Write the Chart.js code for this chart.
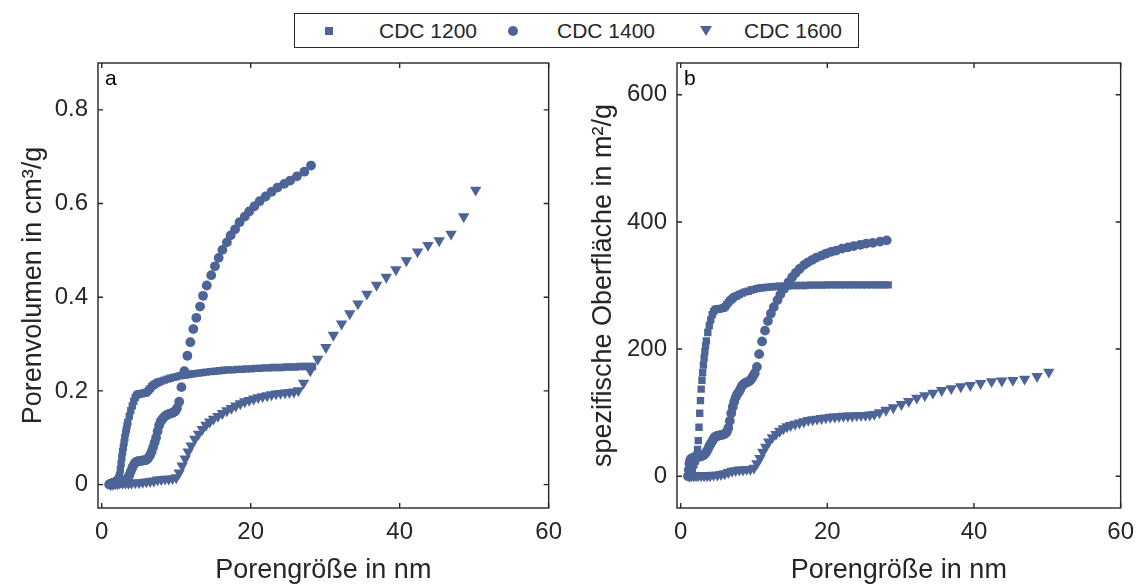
<!DOCTYPE html>
<html>
<head>
<meta charset="utf-8">
<script src="https://cdn.jsdelivr.net/npm/chart.js@4.4.0/dist/chart.umd.min.js"></script>
<style>
  body { margin: 0; width: 1144px; height: 587px; background: #fff; position: relative; overflow: hidden;
         font-family: "Liberation Sans", Arial, sans-serif; color: #262626; }
  .panel { position: absolute; top: 0; }
  #legend { position: absolute; left: 294px; top: 13px; width: 563px; height: 33px; border: 1px solid #262626; background: #fff; }
  #legend span { position: absolute; top: 5px; font-size: 21px; white-space: nowrap; }
  .mk { position: absolute; background: #4d6496; }
</style>
</head>
<body>
<canvas id="panelA" class="panel" width="572" height="587" style="left:0"></canvas>
<canvas id="panelB" class="panel" width="572" height="587" style="left:572px"></canvas>
<div id="legend">
  <div class="mk" style="left:30px;top:13px;width:8px;height:8px"></div>
  <span style="left:84px">CDC 1200</span>
  <div class="mk" style="left:213px;top:12px;width:10px;height:10px;border-radius:50%"></div>
  <span style="left:262px">CDC 1400</span>
  <div class="mk" style="left:405px;top:12px;width:0;height:0;background:none;border-left:6px solid transparent;border-right:6px solid transparent;border-top:10px solid #4d6496"></div>
  <span style="left:449px">CDC 1600</span>
</div>
<script>
// pore width in nm, cumulative pore volume in cm3/g, cumulative surface in m2/g
const width1200 = [1.2,1.4,1.6,1.8,2.0,
  2.1,2.2,2.3,2.4,2.5,2.6,2.7,2.8,2.9,3.0,
  3.1,3.2,3.3,3.4,3.5,
  3.7,3.9,4.1,4.3,4.5,4.7,4.9,5.1,5.3,5.5,
  5.7,5.9,6.1,6.3,6.5,6.7,6.9,7.1,7.3,7.5,
  7.7,8.0,8.4,8.8,9.2,9.6,10.0,10.4,10.8,11.2,
  11.6,12.0,12.5,13.0,13.5,14.0,14.6,15.2,15.8,16.4,
  17.0,17.6,18.2,18.8,19.4,20.0,20.6,21.2,21.8,22.4,
  23.0,23.6,24.2,24.8,25.4,26.0,26.6,27.2,27.8,28.3];
const volume1200 = [0.000,0.002,0.004,0.006,0.008,
  0.009,0.011,0.014,0.020,0.032,0.045,0.058,0.070,0.080,0.090,
  0.100,0.110,0.118,0.126,0.133,
  0.146,0.158,0.168,0.178,0.186,0.191,0.193,0.194,0.194,0.195,
  0.195,0.196,0.198,0.201,0.205,0.209,0.212,0.214,0.216,0.218,
  0.219,0.221,0.223,0.225,0.227,0.229,0.230,0.232,0.233,0.234,
  0.235,0.236,0.237,0.238,0.239,0.240,0.241,0.242,0.243,0.244,
  0.245,0.245,0.246,0.246,0.247,0.247,0.248,0.248,0.249,0.249,
  0.250,0.250,0.250,0.251,0.251,0.251,0.252,0.252,0.252,0.252];
const area1200 = [0,5,12,18,24,
  28,33,42,56,77,99,119,137,151,163,
  175,186,196,205,213,
  226,237,246,254,259,262,263,263,263,264,
  264,265,267,270,273,276,278,280,282,283,
  284,286,288,290,291,293,294,295,296,296.5,
  297,297.5,298,298.5,299,299,299.5,300,300,300,
  300,300.5,300.5,300.5,300.5,301,301,301,301,301,
  301,301,301,301,301,301,301,301,301,301];

const width1400 = [1.0,1.1,1.2,1.3,1.4,1.5,1.7,1.9,2.1,2.3,
  2.5,2.7,2.9,3.1,3.3,3.5,3.7,3.9,4.1,4.3,
  4.5,4.7,4.9,5.1,5.3,5.5,5.7,5.9,6.1,6.3,
  6.5,6.7,6.9,7.1,7.3,7.5,7.7,7.9,8.1,8.3,
  8.5,8.7,8.9,9.1,9.3,9.5,9.7,9.9,10.1,10.4,
  10.7,11.1,11.5,11.9,12.3,12.7,13.2,13.6,14.1,14.7,
  15.2,15.7,16.2,16.8,17.3,17.9,18.5,19.2,19.8,20.5,
  21.2,22.0,22.8,23.6,24.5,25.3,26.2,27.2,28.1];
const volume1400 = [0.000,0.001,0.002,0.002,0.003,0.003,0.003,0.003,0.003,0.004,
  0.004,0.004,0.005,0.007,0.010,0.014,0.020,0.028,0.036,0.042,
  0.047,0.049,0.050,0.050,0.051,0.051,0.052,0.052,0.054,0.058,
  0.063,0.070,0.080,0.090,0.100,0.114,0.126,0.134,0.139,0.143,
  0.146,0.148,0.150,0.151,0.152,0.153,0.155,0.157,0.163,0.177,
  0.208,0.242,0.275,0.304,0.332,0.356,0.380,0.403,0.425,0.447,
  0.466,0.484,0.501,0.517,0.532,0.545,0.560,0.572,0.583,0.594,
  0.605,0.615,0.625,0.634,0.642,0.649,0.658,0.668,0.681];
const area1400 = [0,10,20,25,27,28,29,30,30,31,
  31,31,32,33,35,38,42,47,51,55,
  59,62,63,64,64,65,65,66,67,70,
  76,87,99,109,117,124,129,132,136,141,
  144,146,147,148,149,151,154,158,162,172,
  192,212,229,244,256,266,277,286,295,305,
  313,320,326,332,336,340,344,347,350,353,
  355,358,360,362,364,366,367,369,371];

const width1600 = [1.2,1.5,1.8,2.1,2.4,2.8,3.2,3.6,4.0,4.5,
  5.0,5.5,6.0,6.5,7.0,7.5,8.0,8.5,9.0,9.5,
  10.0,10.4,10.8,11.2,11.6,12.0,12.5,13.0,13.5,14.0,
  14.5,15.0,15.6,16.2,16.8,17.4,18.0,18.6,19.2,19.8,
  20.4,21.0,21.6,22.2,22.8,23.4,24.0,24.6,25.2,25.8,
  26.4,27.1,28.0,29.0,30.1,31.1,32.2,33.3,34.4,35.6,
  36.9,38.2,39.5,40.9,42.4,43.8,45.3,46.9,48.6,50.2];
const volume1600 = [0.000,0.001,0.002,0.002,0.003,0.003,0.003,0.003,0.003,0.004,
  0.004,0.005,0.006,0.007,0.008,0.010,0.011,0.012,0.012,0.013,
  0.015,0.025,0.040,0.055,0.070,0.083,0.097,0.108,0.118,0.127,
  0.134,0.140,0.146,0.152,0.158,0.163,0.168,0.173,0.177,0.180,
  0.183,0.186,0.188,0.190,0.192,0.194,0.195,0.196,0.197,0.198,
  0.201,0.217,0.243,0.268,0.293,0.319,0.343,0.365,0.386,0.407,
  0.426,0.443,0.459,0.478,0.497,0.511,0.521,0.535,0.572,0.629];
const area1600 = [0,1,1,1,1,1,1,1,1,2,
  2,3,4,6,8,9,10,10,11,11,
  13,20,28,38,46,54,61,66,71,75,
  78,80,82,84,86,88,89,90,91,92,
  93,93.5,94,94.5,95,95,95.5,96,96,96.5,
  97.5,100,104,108,113,118,123,127,131,135,
  138,141,143,146,149,150,151,153,157,164];

const seriesNames = ['CDC 1200', 'CDC 1400', 'CDC 1600'];
const xTicks = [0, 20, 40, 60];
const volumeTicks = [0, 0.2, 0.4, 0.6, 0.8];
const areaTicks = [0, 200, 400, 600];

const markColor = '#4d6496';
const textColor = '#262626';
const fontFamily = '"Liberation Sans", Arial, sans-serif';

function pts(xs, ys) {
  return xs.map((x, i) => ({ x: x, y: ys[i] }));
}

// MATLAB-like box with inward ticks and panel letter
const boxTicks = {
  id: 'boxTicks',
  afterDraw(chart, args, opts) {
    const { ctx, chartArea: a, scales: { x, y } } = chart;
    ctx.save();
    ctx.strokeStyle = textColor;
    ctx.lineWidth = 1.4;
    ctx.strokeRect(a.left, a.top, a.right - a.left, a.bottom - a.top);
    const len = 5;
    ctx.beginPath();
    x.ticks.forEach(t => {
      const px = x.getPixelForValue(t.value);
      ctx.moveTo(px, a.bottom); ctx.lineTo(px, a.bottom - len);
      ctx.moveTo(px, a.top); ctx.lineTo(px, a.top + len);
    });
    y.ticks.forEach(t => {
      const py = y.getPixelForValue(t.value);
      ctx.moveTo(a.left, py); ctx.lineTo(a.left + len, py);
      ctx.moveTo(a.right, py); ctx.lineTo(a.right - len, py);
    });
    ctx.stroke();
    ctx.fillStyle = '#000';
    ctx.font = '21px ' + fontFamily;
    ctx.textBaseline = 'alphabetic';
    ctx.fillText(opts.letter, a.left + 7, a.top + 22);
    ctx.restore();
  }
};

function makePanel(id, ys, yTicks, yMin, yMax, yTitle, letter, axisW, padRight, titlePad) {
  const shapes = [
    { style: 'rect', radius: 5.2, rot: 0 },
    { style: 'circle', radius: 4.9, rot: 0 },
    { style: 'triangle', radius: 6.6, rot: 180 }
  ];
  const xs = [width1200, width1400, width1600];
  new Chart(document.getElementById(id).getContext('2d'), {
    type: 'scatter',
    data: {
      datasets: seriesNames.map((name, i) => ({
        label: name,
        data: pts(xs[i], ys[i]),
        pointStyle: shapes[i].style,
        pointRadius: shapes[i].radius,
        pointRotation: shapes[i].rot,
        pointBorderWidth: 0,
        backgroundColor: markColor,
        borderColor: markColor
      }))
    },
    options: {
      responsive: false,
      animation: false,
      events: [],
      layout: { padding: { top: 63, right: padRight, left: 0, bottom: 0 } },
      plugins: {
        legend: { display: false },
        tooltip: { enabled: false },
        boxTicks: { letter: letter }
      },
      scales: {
        x: {
          type: 'linear', min: -0.5, max: 60,
          afterBuildTicks: s => { s.ticks = xTicks.map(v => ({ value: v })); },
          afterFit: s => { s.height = 79; },
          grid: { display: false, drawTicks: false },
          border: { display: false },
          ticks: { color: textColor, font: { size: 24, family: fontFamily }, padding: 10, maxRotation: 0,
                   callback: v => String(v) },
          title: { display: true, text: 'Porengröße in nm', color: textColor,
                   font: { size: 27, family: fontFamily }, padding: { top: 0, bottom: 0 } }
        },
        y: {
          type: 'linear', min: yMin, max: yMax,
          afterBuildTicks: s => { s.ticks = yTicks.map(v => ({ value: v })); },
          afterFit: s => { s.width = axisW; },
          grid: { display: false, drawTicks: false },
          border: { display: false },
          ticks: { color: textColor, font: { size: 24, family: fontFamily }, padding: 10,
                   callback: v => String(v) },
          title: { display: true, text: yTitle, color: textColor,
                   font: { size: 27, family: fontFamily }, padding: { top: titlePad, bottom: 0 } }
        }
      }
    },
    plugins: [boxTicks]
  });
}

makePanel('panelA', [volume1200, volume1400, volume1600], volumeTicks, -0.05, 0.9,
  'Porenvolumen in cm³/g', 'a', 98, 20, 17);
makePanel('panelB', [area1200, area1400, area1600], areaTicks, -50, 650,
  'spezifische Oberfläche in m²/g', 'b', 105, 15, 15);
</script>
</body>
</html>
